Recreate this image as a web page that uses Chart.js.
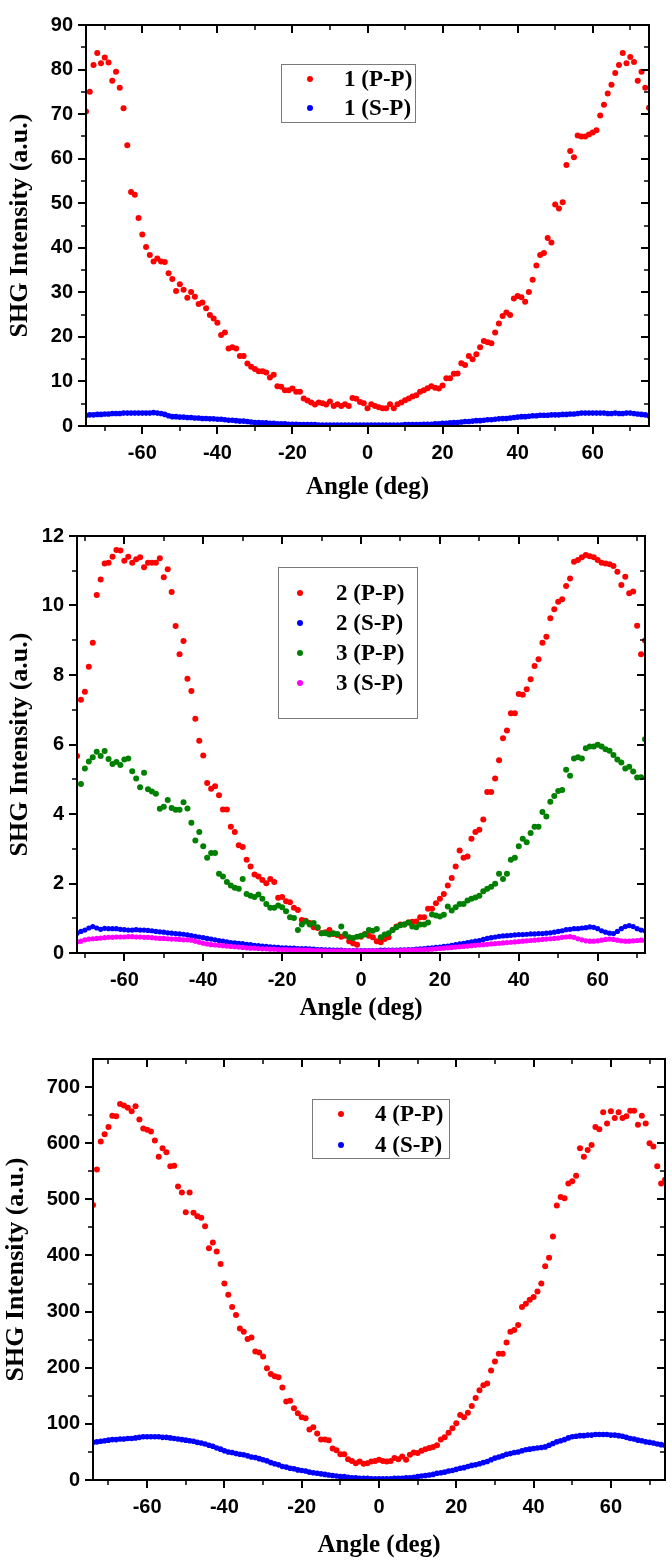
<!DOCTYPE html>
<html>
<head>
<meta charset="utf-8">
<script src="https://cdn.jsdelivr.net/npm/chart.js@4.4.1/dist/chart.umd.min.js"></script>
<style>
  html, body { margin: 0; padding: 0; background: #fff; }
  #wrap { position: relative; width: 672px; height: 1563px; }
  canvas { position: absolute; left: 0; }
</style>
</head>
<body>
<div id="wrap">
  <canvas id="chart1" width="672" height="510" style="top:0px"></canvas>
  <canvas id="chart2" width="672" height="520" style="top:510px"></canvas>
  <canvas id="chart3" width="672" height="533" style="top:1030px"></canvas>
</div>
<script>
// ---- data (one point per degree) ----

// panel 1 : sample 1, angle -75..75
const pp1 = [
  70.6, 75.0, 81.0, 83.7, 81.4, 82.7, 81.6, 77.5, 79.5, 75.9,
  71.3, 63.0, 52.5, 51.9, 46.7, 43.0, 40.2, 38.4, 36.9, 37.6,
  36.9, 36.8, 34.3, 33.0, 30.3, 31.8, 30.6, 28.8, 30.1, 29.0,
  27.4, 27.7, 26.4, 24.9, 24.1, 23.2, 20.4, 21.0, 17.4, 17.7,
  17.4, 15.7, 15.7, 14.0, 13.3, 12.8, 12.3, 12.3, 12.0, 10.9,
  11.5, 8.9, 8.8, 8.0, 8.0, 8.4, 7.7, 7.7, 6.2, 5.7,
  5.3, 4.8, 5.3, 5.1, 4.8, 5.5, 4.5, 4.9, 4.5, 4.9,
  4.5, 6.3, 6.1, 5.4, 5.1, 4.0, 4.9, 4.5, 4.2, 4.0,
  4.0, 4.9, 4.0, 4.9, 5.3, 5.8, 6.2, 6.6, 6.9, 7.7,
  8.0, 8.5, 8.9, 8.6, 8.4, 9.1, 10.7, 10.7, 11.7, 11.8,
  14.1, 13.7, 15.7, 15.0, 16.1, 17.7, 19.1, 18.8, 18.6, 21.0,
  23.0, 24.7, 25.5, 24.9, 28.6, 29.2, 28.9, 27.9, 30.1, 32.8,
  36.0, 38.4, 38.8, 42.2, 41.2, 49.7, 48.8, 50.2, 58.6, 61.7,
  60.3, 65.2, 65.0, 65.0, 65.4, 65.9, 66.4, 69.7, 72.1, 74.6,
  76.6, 79.2, 81.0, 83.7, 81.4, 82.8, 81.7, 77.5, 79.5, 75.9,
  71.4
];
const sp1 = [
  2.4, 2.5, 2.5, 2.6, 2.6, 2.7, 2.7, 2.8, 2.8, 2.8,
  2.9, 2.9, 2.9, 2.9, 2.9, 2.9, 2.9, 2.9, 3.0, 2.9,
  2.8, 2.6, 2.3, 2.1, 2.1, 2.0, 2.0, 1.9, 1.9, 1.8,
  1.8, 1.7, 1.7, 1.6, 1.6, 1.5, 1.5, 1.4, 1.3, 1.3,
  1.2, 1.1, 1.1, 1.0, 0.9, 0.8, 0.8, 0.7, 0.7, 0.6,
  0.6, 0.5, 0.5, 0.5, 0.4, 0.4, 0.4, 0.3, 0.3, 0.3,
  0.3, 0.3, 0.2, 0.2, 0.2, 0.2, 0.2, 0.2, 0.2, 0.2,
  0.2, 0.2, 0.2, 0.2, 0.2, 0.2, 0.2, 0.2, 0.2, 0.2,
  0.2, 0.2, 0.2, 0.2, 0.2, 0.3, 0.3, 0.3, 0.3, 0.3,
  0.4, 0.4, 0.4, 0.5, 0.5, 0.6, 0.6, 0.7, 0.8, 0.8,
  0.9, 1.0, 1.0, 1.1, 1.2, 1.2, 1.3, 1.4, 1.4, 1.5,
  1.6, 1.7, 1.7, 1.8, 1.9, 2.0, 2.1, 2.1, 2.2, 2.3,
  2.3, 2.4, 2.4, 2.4, 2.5, 2.5, 2.5, 2.6, 2.6, 2.7,
  2.7, 2.8, 2.9, 2.9, 2.9, 2.9, 2.9, 2.9, 2.9, 2.8,
  2.8, 2.9, 2.8, 2.8, 2.9, 2.9, 2.8, 2.7, 2.6, 2.5,
  2.3
];

// panel 2 : samples 2 and 3, angle -72..72
const pp2 = [
  5.67, 7.29, 7.52, 8.24, 8.93, 10.30, 10.75, 11.21, 11.23, 11.40,
  11.60, 11.58, 11.29, 11.40, 11.23, 11.33, 11.39, 11.10, 11.23, 11.23,
  11.23, 11.36, 10.81, 11.04, 10.39, 9.41, 8.60, 8.98, 7.89, 7.54,
  6.74, 6.11, 5.68, 4.89, 4.73, 4.80, 4.54, 4.13, 4.13, 3.63,
  3.48, 3.10, 3.05, 2.68, 2.49, 2.26, 2.20, 2.10, 2.01, 2.13,
  2.04, 1.59, 1.61, 1.49, 1.46, 1.30, 1.24, 0.95, 0.93, 0.86,
  0.74, 0.72, 0.57, 0.60, 0.66, 0.55, 0.52, 0.47, 0.50, 0.34,
  0.28, 0.24, 0.47, 0.55, 0.50, 0.45, 0.34, 0.31, 0.40, 0.45,
  0.66, 0.76, 0.82, 0.82, 0.88, 0.90, 0.91, 1.03, 1.03, 1.27,
  1.27, 1.43, 1.56, 1.70, 1.94, 2.16, 2.49, 2.95, 2.74, 2.78,
  3.29, 3.48, 3.55, 3.84, 4.63, 4.63, 5.02, 5.55, 6.18, 6.40,
  6.90, 6.90, 7.45, 7.43, 7.59, 7.88, 8.26, 8.45, 8.93, 9.10,
  9.63, 9.89, 10.11, 10.18, 10.56, 10.78, 11.26, 11.31, 11.39, 11.45,
  11.42, 11.39, 11.31, 11.23, 11.21, 11.19, 11.14, 10.97, 10.59, 10.83,
  10.35, 10.40, 9.42, 8.60, 8.99
];
const sp2 = [
  0.57, 0.62, 0.66, 0.72, 0.76, 0.72, 0.68, 0.71, 0.70, 0.70,
  0.70, 0.68, 0.67, 0.66, 0.66, 0.67, 0.66, 0.66, 0.65, 0.64,
  0.62, 0.61, 0.60, 0.58, 0.57, 0.56, 0.55, 0.54, 0.52, 0.50,
  0.48, 0.46, 0.44, 0.42, 0.40, 0.38, 0.36, 0.34, 0.32, 0.30,
  0.29, 0.28, 0.27, 0.25, 0.24, 0.22, 0.21, 0.20, 0.19, 0.18,
  0.17, 0.16, 0.15, 0.15, 0.14, 0.14, 0.13, 0.13, 0.13, 0.12,
  0.11, 0.10, 0.10, 0.09, 0.09, 0.08, 0.08, 0.08, 0.07, 0.07,
  0.07, 0.07, 0.07, 0.07, 0.07, 0.07, 0.07, 0.08, 0.08, 0.08,
  0.08, 0.08, 0.09, 0.09, 0.10, 0.10, 0.11, 0.12, 0.13, 0.14,
  0.15, 0.16, 0.17, 0.19, 0.20, 0.22, 0.24, 0.26, 0.28, 0.30,
  0.32, 0.34, 0.36, 0.39, 0.42, 0.44, 0.46, 0.48, 0.49, 0.50,
  0.51, 0.52, 0.53, 0.53, 0.54, 0.55, 0.55, 0.56, 0.56, 0.57,
  0.58, 0.60, 0.62, 0.64, 0.67, 0.68, 0.70, 0.70, 0.72, 0.73,
  0.75, 0.74, 0.70, 0.64, 0.60, 0.57, 0.56, 0.62, 0.70, 0.76,
  0.79, 0.76, 0.70, 0.66, 0.64
];
const pp3 = [
  null, 4.86, 5.31, 5.51, 5.63, 5.79, 5.67, 5.81, 5.58, 5.44,
  5.50, 5.41, 5.57, 5.60, 5.23, 5.02, 4.77, 5.19, 4.71, 4.65,
  4.58, 4.15, 4.21, 4.40, 4.17, 4.12, 4.12, 4.34, 4.16, 3.75,
  3.24, 3.48, 3.07, 2.74, 2.88, 2.88, 2.28, 2.20, 2.04, 1.94,
  1.88, 1.85, 2.13, 1.70, 1.65, 1.61, 1.68, 1.56, 1.41, 1.30,
  1.30, 1.37, 1.32, 1.20, 1.03, 1.01, 0.66, 0.82, 0.91, 0.82,
  0.86, 0.74, 0.57, 0.57, 0.53, 0.57, 0.55, 0.76, 0.55, 0.45,
  0.43, 0.47, 0.50, 0.53, 0.66, 0.64, 0.69, 0.45, 0.53, 0.57,
  0.66, 0.74, 0.80, 0.82, 0.88, 0.76, 0.74, 0.82, 0.82, 0.88,
  1.11, 1.08, 1.05, 1.10, 1.34, 1.22, 1.32, 1.41, 1.41, 1.51,
  1.56, 1.60, 1.65, 1.78, 1.85, 1.91, 1.99, 2.28, 2.13, 2.28,
  2.68, 2.74, 3.07, 3.29, 3.19, 3.45, 3.63, 3.63, 4.06, 3.93,
  4.35, 4.52, 4.66, 4.69, 5.27, 5.10, 5.60, 5.63, 5.60, 5.89,
  5.94, 5.94, 5.99, 5.94, 5.86, 5.82, 5.70, 5.57, 5.48, 5.31,
  5.36, 5.22, 5.05, 5.06, 6.15
];
const sp3 = [
  0.32, 0.34, 0.38, 0.40, 0.41, 0.42, 0.43, 0.44, 0.45, 0.45,
  0.46, 0.46, 0.46, 0.47, 0.47, 0.46, 0.46, 0.45, 0.45, 0.44,
  0.43, 0.42, 0.42, 0.41, 0.40, 0.40, 0.39, 0.38, 0.38, 0.37,
  0.34, 0.31, 0.28, 0.26, 0.24, 0.23, 0.22, 0.21, 0.20, 0.19,
  0.18, 0.17, 0.16, 0.15, 0.14, 0.14, 0.13, 0.12, 0.12, 0.11,
  0.11, 0.10, 0.10, 0.10, 0.09, 0.09, 0.09, 0.08, 0.08, 0.08,
  0.07, 0.07, 0.07, 0.06, 0.06, 0.06, 0.06, 0.06, 0.06, 0.06,
  0.06, 0.06, 0.06, 0.06, 0.06, 0.06, 0.06, 0.06, 0.06, 0.07,
  0.07, 0.07, 0.07, 0.08, 0.08, 0.08, 0.09, 0.09, 0.10, 0.10,
  0.11, 0.12, 0.13, 0.14, 0.15, 0.16, 0.17, 0.18, 0.19, 0.20,
  0.21, 0.22, 0.23, 0.24, 0.25, 0.26, 0.27, 0.28, 0.29, 0.30,
  0.31, 0.32, 0.33, 0.34, 0.35, 0.36, 0.37, 0.38, 0.39, 0.40,
  0.41, 0.42, 0.43, 0.45, 0.46, 0.47, 0.45, 0.41, 0.38, 0.35,
  0.34, 0.34, 0.35, 0.37, 0.39, 0.40, 0.39, 0.37, 0.35, 0.34,
  0.34, 0.35, 0.36, 0.37, 0.36
];

// panel 3 : sample 4, angle -74..74
const pp4 = [
  490, 553, 603, 616, 629, 649, 648, 670, 667, 663,
  657, 666, 642, 626, 624, 621, 605, 576, 591, 584,
  559, 560, 523, 512, 477, 512, 476, 470, 467, 452,
  413, 423, 407, 385, 350, 330, 308, 294, 270, 264,
  251, 254, 229, 227, 220, 199, 189, 185, 183, 165,
  140, 141, 128, 119, 112, 110, 90, 94, 83, 72,
  72, 71, 56, 53, 46, 46, 37, 34, 30, 33,
  29, 30, 33, 34, 36, 34, 33, 34, 39, 37,
  42, 36, 45, 49, 48, 52, 55, 57, 59, 62,
  72, 76, 84, 92, 101, 116, 112, 120, 132, 146,
  160, 169, 172, 195, 211, 225, 225, 245, 264, 267,
  276, 308, 314, 321, 326, 336, 350, 381, 396, 434,
  489, 504, 502, 528, 532, 542, 591, 576, 588, 597,
  629, 625, 655, 635, 657, 645, 655, 645, 648, 658,
  658, 633, 649, 635, 600, 594, 559, 528, 535
];
const sp4 = [
  67, 68, 69, 70, 71, 72, 72, 73, 73, 74,
  74, 75, 76, 77, 77, 77, 77, 77, 76, 76,
  75, 74, 73, 72, 71, 70, 69, 67, 66, 64,
  62, 60, 57, 55, 52, 50, 49, 47, 46, 45,
  43, 41, 40, 38, 36, 34, 31, 29, 27, 24,
  23, 21, 20, 18, 17, 16, 14, 13, 12, 11,
  10, 9, 8, 7, 6, 6, 5, 4, 4, 3,
  3, 3, 2, 2, 2, 2, 2, 2, 3, 3,
  3, 4, 4, 5, 6, 7, 8, 9, 10, 12,
  13, 14, 16, 17, 19, 21, 22, 24, 26, 27,
  29, 31, 33, 36, 39, 41, 43, 46, 47, 49,
  50, 52, 54, 55, 56, 57, 58, 59, 62, 65,
  68, 70, 72, 75, 77, 78, 79, 79, 80, 80,
  81, 81, 81, 81, 80, 80, 79, 78, 76, 74,
  73, 71, 70, 68, 67, 66, 64, 63, 62
];

// tick values
const xMajor = [-60, -40, -20, 0, 20, 40, 60];
const xMinor = [-70, -50, -30, -10, 10, 30, 50, 70];
const yMajor1 = [0, 10, 20, 30, 40, 50, 60, 70, 80, 90];
const yMinor1 = [5, 15, 25, 35, 45, 55, 65, 75, 85];
const yMajor2 = [0, 2, 4, 6, 8, 10, 12];
const yMinor2 = [1, 3, 5, 7, 9, 11];
const yMajor3 = [0, 100, 200, 300, 400, 500, 600, 700];
const yMinor3 = [50, 150, 250, 350, 450, 550, 650];

// ---- helpers ----
const W = 672;
const SANS = "'Liberation Sans', Arial, sans-serif";
const SERIF = "'Liberation Serif', 'Times New Roman', serif";
const RED = '#ff0000', BLUE = '#0000ff', GREEN = '#008000', MAGENTA = '#ff00ff';

function angleGrid(from, to) {
  const a = [];
  for (let v = from; v <= to; v++) a.push(v);
  return a;
}
function toPoints(xs, ys) {
  return xs.map((x, i) => ({x: x, y: ys[i]}));
}

// frame, ticks on all four sides and the boxed legend
const framePlugin = {
  id: 'frame',
  afterDatasetsDraw(chart, args, o) {
    const ctx = chart.ctx, a = chart.chartArea;
    const sx = chart.scales.x, sy = chart.scales.y;
    ctx.save();
    ctx.strokeStyle = '#000';
    function xt(vals, len) {
      vals.forEach(v => {
        const p = Math.round(sx.getPixelForValue(v));
        ctx.beginPath();
        ctx.moveTo(p, a.bottom); ctx.lineTo(p, a.bottom + len);
        ctx.moveTo(p, a.top); ctx.lineTo(p, a.top + len);
        ctx.stroke();
      });
    }
    function yt(vals, len) {
      vals.forEach(v => {
        const p = Math.round(sy.getPixelForValue(v));
        ctx.beginPath();
        ctx.moveTo(a.left - len, p); ctx.lineTo(a.left, p);
        ctx.moveTo(a.right - len, p); ctx.lineTo(a.right, p);
        ctx.stroke();
      });
    }
    ctx.lineWidth = 2;
    xt(o.xMajor, 8); yt(o.yMajor, 8);
    ctx.lineWidth = 1.5;
    xt(o.xMinor, 5); yt(o.yMinor, 5);
    ctx.lineWidth = 2;
    ctx.strokeRect(a.left, a.top, a.right - a.left, a.bottom - a.top);

    // legend
    const L = o.legend;
    ctx.fillStyle = '#fff';
    ctx.fillRect(L.x, L.y, L.w, L.h);
    ctx.lineWidth = 1;
    ctx.strokeStyle = '#7a7a7a';
    ctx.strokeRect(L.x + 0.5, L.y + 0.5, L.w, L.h);
    ctx.font = 'bold 23px ' + SERIF;
    ctx.textBaseline = 'middle';
    ctx.textAlign = 'left';
    chart.data.datasets.forEach((ds, i) => {
      const ry = L.y + L.first + i * L.step;
      ctx.fillStyle = ds.backgroundColor;
      ctx.beginPath();
      ctx.arc(L.x + L.marker, ry, 3, 0, Math.PI * 2);
      ctx.fill();
      ctx.fillStyle = '#000';
      ctx.fillText(ds.label, L.x + L.text, ry + 1);
    });
    ctx.restore();
  }
};

function makeChart(id, c) {
  const canvas = document.getElementById(id);
  const H = canvas.height;
  const ds = c.series.map((s, i) => ({
    label: s.label,
    data: toPoints(c.angles, s.values),
    backgroundColor: s.color,
    borderWidth: 0,
    pointRadius: s.r,
    pointHoverRadius: s.r,
    clip: 0,
    order: 10 - i
  }));
  return new Chart(canvas, {
    type: 'scatter',
    data: {datasets: ds},
    options: {
      responsive: false,
      animation: false,
      events: [],
      layout: {padding: {top: c.area.top, right: W - c.area.right, bottom: 0, left: 0}},
      plugins: {
        legend: {display: false},
        tooltip: {enabled: false},
        frame: {xMajor: xMajor, xMinor: xMinor, yMajor: c.yMajor, yMinor: c.yMinor, legend: c.legend}
      },
      scales: {
        x: {
          type: 'linear', min: c.xMin, max: c.xMax,
          grid: {display: false, drawTicks: false},
          border: {display: false},
          afterBuildTicks: s => { s.ticks = xMajor.map(v => ({value: v})); },
          afterFit: s => { s.height = H - c.area.bottom; },
          ticks: {font: {family: SANS, weight: 'bold', size: 20}, color: '#000', padding: 15,
                  maxRotation: 0, minRotation: 0, autoSkip: false},
          title: {display: true, text: 'Angle (deg)', color: '#000',
                  font: {family: SERIF, weight: 'bold', size: 25},
                  padding: {top: 0, bottom: c.xTitlePad}}
        },
        y: {
          type: 'linear', min: c.yMin, max: c.yMax,
          grid: {display: false, drawTicks: false},
          border: {display: false},
          afterBuildTicks: s => { s.ticks = c.yMajor.map(v => ({value: v})); },
          afterFit: s => { s.width = c.area.left; },
          ticks: {font: {family: SANS, weight: 'bold', size: 20}, color: '#000', padding: 13, autoSkip: false},
          title: {display: true, text: 'SHG Intensity (a.u.)', color: '#000',
                  font: {family: SERIF, weight: 'bold', size: 26},
                  padding: {top: c.yTitlePad, bottom: 0}}
        }
      }
    },
    plugins: [framePlugin]
  });
}

makeChart('chart1', {
  angles: angleGrid(-75, 75), xMin: -75, xMax: 75, yMin: 0, yMax: 90,
  yMajor: yMajor1, yMinor: yMinor1,
  area: {left: 86, right: 649, top: 13, bottom: 426},
  xTitlePad: 7, yTitlePad: 5,
  legend: {x: 281, y: 64, w: 134, h: 58, first: 15, step: 29, marker: 29, text: 63},
  series: [
    {label: '1 (P-P)', values: pp1, color: RED, r: 3},
    {label: '1 (S-P)', values: sp1, color: BLUE, r: 2.8}
  ]
});

makeChart('chart2', {
  angles: angleGrid(-72, 72), xMin: -72, xMax: 72, yMin: 0, yMax: 12,
  yMajor: yMajor2, yMinor: yMinor2,
  area: {left: 77, right: 645, top: 26, bottom: 443},
  xTitlePad: 6, yTitlePad: 5,
  legend: {x: 278, y: 57, w: 139, h: 151, first: 26, step: 30, marker: 22, text: 58},
  series: [
    {label: '2 (P-P)', values: pp2, color: RED, r: 3},
    {label: '2 (S-P)', values: sp2, color: BLUE, r: 2.6},
    {label: '3 (P-P)', values: pp3, color: GREEN, r: 3},
    {label: '3 (S-P)', values: sp3, color: MAGENTA, r: 2.6}
  ]
});

makeChart('chart3', {
  angles: angleGrid(-74, 74), xMin: -74, xMax: 74, yMin: 0, yMax: 750,
  yMajor: yMajor3, yMinor: yMinor3,
  area: {left: 93, right: 665, top: 29, bottom: 450},
  xTitlePad: 2, yTitlePad: 1,
  legend: {x: 312, y: 69, w: 137, h: 59, first: 15, step: 31, marker: 29, text: 63},
  series: [
    {label: '4 (P-P)', values: pp4, color: RED, r: 3},
    {label: '4 (S-P)', values: sp4, color: BLUE, r: 2.8}
  ]
});
</script>
</body>
</html>
